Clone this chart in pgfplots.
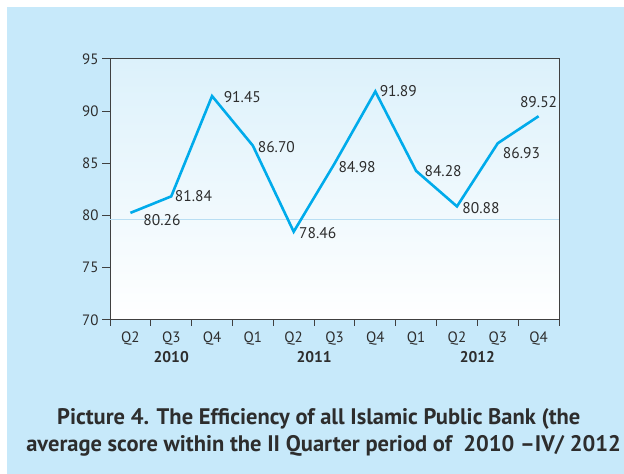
\documentclass[border=0pt]{standalone}
\usepackage{pgfplots}
\pgfplotsset{compat=1.18}
\usepackage{fontspec}
\setmainfont{PT Sans}
\definecolor{bgblue}{RGB}{199,233,250}
\definecolor{topblue}{RGB}{220,241,251}
\definecolor{linecyan}{RGB}{0,171,235}
\definecolor{gridblue}{RGB}{185,222,243}
\definecolor{axgray}{RGB}{64,64,64}
\definecolor{txt}{RGB}{45,45,45}
\begin{document}
\begin{tikzpicture}
\useasboundingbox (0pt,0pt) rectangle (624pt,474pt);
\fill[bgblue] (7pt,0pt) rectangle (624pt,467pt);
\begin{axis}[
  at={(110pt,154pt)}, anchor=south west,
  scale only axis, width=449pt, height=261pt,
  xmin=-0.5, xmax=10.5, ymin=70, ymax=95,
  xtick={0,...,10},
  xticklabels={Q2,Q3,Q4,Q1,Q2,Q3,Q4,Q1,Q2,Q3,Q4},
  minor xtick={-0.5,0.5,...,10.5},
  ytick={70,75,...,95},
  tick align=outside,
  major tick length=8pt,
  minor tick length=6pt,
  every major x tick/.style={draw=none},
  every minor x tick/.style={draw=axgray, line width=1pt},
  every major y tick/.style={draw=axgray, line width=1pt},
  xtick pos=bottom, ytick pos=left,
  axis line style={draw=axgray, line width=1pt},
  axis background/.style={top color=topblue, bottom color=white},
  tick label style={font=\fontsize{15}{17}\selectfont, text=txt},
  /pgf/number format/assume math mode=true,
  extra y ticks={79.6},
  extra y tick labels={},
  extra y tick style={grid=major, major grid style={draw=gridblue, line width=0.8pt}, major tick length=0pt},
  clip=false,
]
\addplot[linecyan, line width=2.6pt, mark=none,
  point meta=explicit symbolic,
  visualization depends on={\thisrow{dx}\as\dx},
  visualization depends on={\thisrow{dy}\as\dy},
  nodes near coords,
  nodes near coords style={anchor=center, xshift=\dx pt, yshift=\dy pt,
     font=\fontsize{15.5}{17}\selectfont, text=txt},
] table[x=x, y=y, meta=lab] {
x y lab dx dy
0 80.26 80.26 31.6 -7
1 81.84 81.84 22.3 0
2 91.45 91.45 30.3 -0.7
3 86.70 86.70 23.5 -1.7
4 78.46 78.46 24 -1
5 84.98 84.98 22.6 -3
6 91.89 91.89 23 0
7 84.28 84.28 27 0
8 80.88 80.88 24 -1.6
9 86.93 86.93 23.7 -9.7
10 89.52 89.52 0 14
};
\node[font=\fontsize{15.5}{17}\selectfont\bfseries, text=txt] at (axis cs:1,70) [yshift=-37pt] {2010};
\node[font=\fontsize{15.5}{17}\selectfont\bfseries, text=txt] at (axis cs:4.5,70) [yshift=-37pt] {2011};
\node[font=\fontsize{15.5}{17}\selectfont\bfseries, text=txt] at (axis cs:8.5,70) [yshift=-37pt] {2012};
\end{axis}
\node[anchor=base west, inner sep=0, font=\fontsize{22.5}{26}\selectfont\bfseries, text=txt] at (57pt,49pt) {Picture 4. The Efficiency of all Islamic Public Bank (the};
\node[anchor=base east, inner sep=0, font=\fontsize{22.5}{26}\selectfont\bfseries, text=txt] at (621pt,23pt) {average score within the II Quarter period of\ \ 2010 –IV/ 2012};
\end{tikzpicture}
\end{document}
